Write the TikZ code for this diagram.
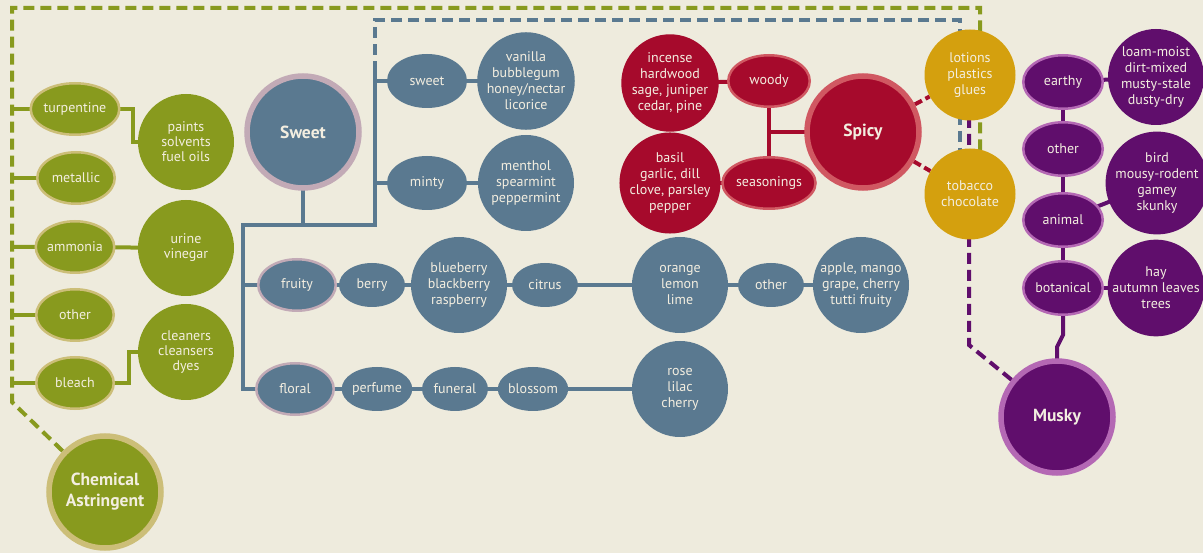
\documentclass[tikz,border=0pt]{standalone}
\usepackage{fontspec}
\setmainfont{PT Sans}
\usetikzlibrary{shapes.geometric}
\pgfdeclarelayer{back}
\pgfdeclarelayer{bg}
\pgfsetlayers{back,bg,main}
\definecolor{bgc}{RGB}{238,235,221}
\definecolor{txt}{RGB}{243,238,224}
\definecolor{grn}{RGB}{136,154,30}
\definecolor{grnring}{RGB}{204,190,120}
\definecolor{blu}{RGB}{90,121,144}
\definecolor{bluring}{RGB}{194,170,182}
\definecolor{red}{RGB}{166,10,44}
\definecolor{redring}{RGB}{208,88,98}
\definecolor{gld}{RGB}{212,160,14}
\definecolor{pur}{RGB}{96,14,108}
\definecolor{purring}{RGB}{180,104,180}
\begin{document}
\begin{tikzpicture}[x=1pt,y=-1pt,
  lbl/.style={inner sep=0pt, align=center, text=txt, font=\fontsize{14}{16}\selectfont},
  ell/.style={lbl, ellipse, minimum width=80pt, minimum height=54pt},
  sell/.style={lbl, ellipse, minimum width=66pt, minimum height=44pt},
  circ/.style={lbl, circle, minimum size=96pt},
  big/.style={lbl, circle, minimum size=112pt, line width=5.5pt, font=\fontsize{17.5}{21}\selectfont\bfseries},
  ringed/.style={line width=2.5pt, minimum width=77.5pt, minimum height=51.5pt},
  gell/.style={ell, fill=grn, draw=grnring, ringed},
  gcirc/.style={circ, fill=grn, font=\fontsize{14}{15}\selectfont},
  gbig/.style={big, fill=grn, draw=grnring},
  bell/.style={ell, fill=blu},
  bring/.style={ell, fill=blu, draw=bluring, ringed},
  bsell/.style={sell, fill=blu},
  bcirc/.style={circ, fill=blu},
  bbig/.style={big, fill=blu, draw=bluring},
  rell/.style={ell, fill=red, draw=redring, ringed, minimum width=81.5pt},
  rcirc/.style={circ, fill=red},
  rbig/.style={big, fill=red, draw=redring},
  ycirc/.style={circ, fill=gld, minimum size=91pt},
  pell/.style={ell, fill=pur, draw=purring, ringed, minimum width=79.5pt, minimum height=53.5pt},
  pcirc/.style={circ, fill=pur},
  pbig/.style={big, fill=pur, draw=purring},
  conn/.style={line width=4pt, line cap=rect},
  dconn/.style={line width=4pt, dash pattern=on 11pt off 6pt},
  gline/.style={conn, draw=grn}, gdash/.style={dconn, draw=grn},
  bline/.style={conn, draw=blu}, bdash/.style={dconn, draw=blu},
  rline/.style={conn, draw=red}, rdash/.style={line width=4pt, dash pattern=on 8pt off 4pt, draw=red},
  pline/.style={conn, draw=pur}, pdash/.style={dconn, draw=pur}
]
\useasboundingbox (0,0) rectangle (1203,553);
\begin{pgfonlayer}{back}
\fill[bgc] (0,0) rectangle (1203,553);
\end{pgfonlayer}

% Chemical / Astringent
\node[gell] (turp) at (75,109) {turpentine};
\node[gell] (metal) at (76,178) {metallic};
\node[gell] (ammo) at (75,247) {ammonia};
\node[gell] (gother) at (75,315) {other};
\node[gell] (bleach) at (75,383) {bleach};
\node[gcirc] (paints) at (186,142) {paints\\solvents\\fuel oils};
\node[gcirc] (urine) at (186,248) {urine\\vinegar};
\node[gcirc] (clean) at (186,352) {cleaners\\cleansers\\dyes};
\node[gbig] (chem) at (105,492) {Chemical\\Astringent};

% Sweet
\node[bbig] (sweetbig) at (303,132) {Sweet};
\node[bell] (sweet) at (427,81) {sweet};
\node[bcirc] (vanilla) at (526,81) {vanilla\\bubblegum\\honey/nectar\\licorice};
\node[bell] (minty) at (427,183) {minty};
\node[bcirc] (menthol) at (526,183) {menthol\\spearmint\\peppermint};
\node[bring] (fruity) at (297,285) {fruity};
\node[bsell] (berry) at (372,285) {berry};
\node[bcirc] (blueb) at (459,285) {blueberry\\blackberry\\raspberry};
\node[bsell] (citrus) at (545,285) {citrus};
\node[bcirc] (orange) at (680,285) {orange\\lemon\\lime};
\node[bsell] (bother) at (771,285) {other};
\node[bcirc] (apple) at (861,285) {apple, mango\\grape, cherry\\tutti fruity};
\node[bring] (floral) at (295,389) {floral};
\node[bsell] (perfume) at (377,389) {perfume};
\node[bsell] (funeral) at (455,389) {funeral};
\node[bsell] (blossom) at (533,389) {blossom};
\node[bcirc] (rose) at (680,389) {rose\\lilac\\cherry};

% Spicy
\node[rbig] (spicy) at (863,132) {Spicy};
\node[rell] (woody) at (769,81) {woody};
\node[rell] (season) at (769,183) {seasonings};
\node[rcirc] (incense) at (670,83) {incense\\hardwood\\sage, juniper\\cedar, pine};
\node[rcirc] (basil) at (670,183) {basil\\garlic, dill\\clove, parsley\\pepper};

% Shared
\node[ycirc] (lotions) at (970,75) {lotions\\plastics\\glues};
\node[ycirc] (tobacco) at (970,194) {tobacco\\chocolate};

% Musky
\node[pell] (earthy) at (1063,82) {earthy};
\node[pell] (pother) at (1063,149) {other};
\node[pell] (animal) at (1063,220) {animal};
\node[pell] (botan) at (1063,288) {botanical};
\node[pcirc] (loam) at (1156,77) {loam-moist\\dirt-mixed\\musty-stale\\dusty-dry};
\node[pcirc] (bird) at (1157,183) {bird\\mousy-rodent\\gamey\\skunky};
\node[pcirc] (hay) at (1156,288) {hay\\autumn leaves\\trees};
\node[pbig] (musky) at (1057,417) {Musky};

\begin{pgfonlayer}{bg}
% green
\coordinate (g1) at (12,402);
\coordinate (g2) at (12,8);
\coordinate (g3) at (980,8);
\draw[gdash] (chem) -- (g1) -- (g2) -- (g3) -- (g3 |- tobacco);
\draw[gline] (g2 |- turp) -- (turp);
\draw[gline] (g2 |- metal) -- (metal);
\draw[gline] (g2 |- ammo) -- (ammo) -- (urine);
\draw[gline] (g2 |- gother) -- (gother);
\draw[gline] (g2 |- bleach) -- (bleach);
\draw[gline] (turp.east) -- ++(12,0) |- (paints);
\draw[gline] (bleach.east) -- ++(14,0) |- (clean);
% blue
\coordinate (b1) at (243,225);
\coordinate (b2) at (375,225);
\coordinate (b3) at (375,72);
\coordinate (b4) at (375,20);
\coordinate (b5) at (960,20);
\draw[bline] (sweetbig) -- (sweetbig |- b1);
\draw[bline] (b1) -- (b2) -- (b3);
\draw[bline] (b1) -- (b1 |- floral);
\draw[bdash] (b3) -- (b4) -- (b5) -- (b5 |- tobacco);
\draw[bline] (b2 |- sweet) -- (sweet) -- (vanilla);
\draw[bline] (b2 |- minty) -- (minty) -- (menthol);
\draw[bline] (b1 |- fruity) -- (fruity) -- (berry) -- (blueb) -- (citrus) -- (orange) -- (bother) -- (apple);
\draw[bline] (b1 |- floral) -- (floral) -- (perfume) -- (funeral) -- (blossom) -- (rose);
% red
\draw[rline] (incense) -- (woody);
\draw[rline] (basil) -- (season);
\draw[rline] (woody) -- (season);
\draw[rline] (woody |- spicy) -- (spicy);
\draw[rdash] (spicy) -- (lotions);
\draw[rdash] (spicy) -- (tobacco);
% purple
\coordinate (p1) at (1063,335);
\coordinate (p2) at (1057,347);
\coordinate (p3) at (969,345);
\draw[pline] (earthy) -- (loam);
\draw[pline] (earthy) -- (botan);
\draw[pline] (animal) -- (bird);
\draw[pline] (botan) -- (hay);
\draw[pline] (botan) -- (p1) -- (p2) -- (musky);
\draw[pdash] (musky) -- (p3) -- (p3 |- lotions);
\end{pgfonlayer}
\end{tikzpicture}
\end{document}
